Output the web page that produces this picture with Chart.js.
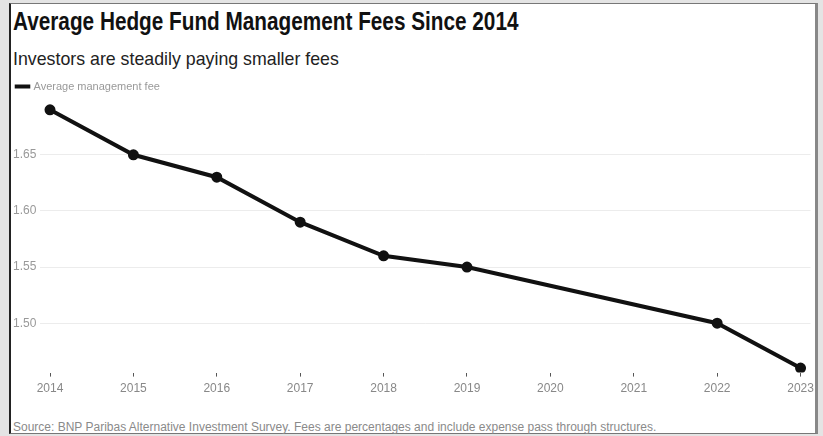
<!DOCTYPE html>
<html>
<head>
<meta charset="utf-8">
<script src="https://cdn.jsdelivr.net/npm/chart.js@4"></script>
<style>
  body { margin: 0; background: #e4e4e4; width: 823px; height: 436px; overflow: hidden; }
  #frame {
    position: absolute; left: 9px; top: 3px; width: 804px; height: 429px;
    background: #fff; border: 1px solid #777; border-left: 2px solid #222; border-right: 3px solid #888;
  }
  .txt { position: absolute; font-family: "Liberation Sans", Arial, sans-serif; white-space: nowrap; transform-origin: 0 0; }
  #title { left: 2px; top: 3px; font-size: 25px; font-weight: bold; color: #111; transform: scaleX(0.83); }
  #subtitle { left: 2px; top: 44px; font-size: 19px; color: #222; transform: scaleX(0.935); }
  #source { left: 2px; top: 416px; font-size: 12px; color: #8a8a8a; }
  #wrap { position: absolute; left: 0px; top: 69px; width: 808px; height: 328px; }
</style>
</head>
<body>
<div id="frame">
  <div id="title" class="txt">Average Hedge Fund Management Fees Since 2014</div>
  <div id="subtitle" class="txt">Investors are steadily paying smaller fees</div>
  <div id="wrap"><canvas id="myChart"></canvas></div>
  <div id="source" class="txt">Source: BNP Paribas Alternative Investment Survey. Fees are percentages and include expense pass through structures.</div>
</div>
<script>
// Data ------------------------------------
const years = [2014, 2015, 2016, 2017, 2018, 2019, 2020, 2021, 2022, 2023];
const fees = [1.69, 1.65, 1.63, 1.59, 1.56, 1.55, null, null, 1.50, 1.46];
const yTicks = [1.50, 1.55, 1.60, 1.65];
const seriesLabel = "Average management fee";

const font = "'Liberation Sans', Arial, sans-serif";

const ctx = document.getElementById("myChart").getContext("2d");
const myChart = new Chart(ctx, {
  type: "line",
  data: {
    datasets: [
      {
        label: seriesLabel,
        data: years.map((y, i) => ({ x: y, y: fees[i] })),
        borderColor: "#111",
        backgroundColor: "#111",
        borderWidth: 4,
        pointRadius: 3.5,
        pointHoverRadius: 3.5,
        spanGaps: true,
        tension: 0,
      },
    ],
  },
  options: {
    responsive: true,
    maintainAspectRatio: false,
    animation: false,
    events: [],
    layout: { padding: { left: 2, right: 0, top: 4, bottom: 0 } },
    scales: {
      x: {
        type: "linear",
        min: 2013.88,
        max: 2023.12,
        afterBuildTicks: (scale) => {
          scale.ticks = years.map((v) => ({ value: v }));
        },
        ticks: {
          color: "#888",
          font: { family: font, size: 12 },
          padding: 5,
          callback: (v) => String(v),
        },
        grid: {
          drawOnChartArea: false,
          drawTicks: true,
          tickLength: 4,
          tickColor: "#555",
        },
        border: { display: false },
      },
      y: {
        min: 1.456,
        max: 1.697,
        afterBuildTicks: (scale) => {
          scale.ticks = yTicks.map((v) => ({ value: v }));
        },
        afterFit: (scale) => {
          scale.width = 27;
        },
        ticks: {
          color: "#999",
          font: { family: font, size: 12 },
          padding: 4,
          crossAlign: "far",
          callback: (v) => v.toFixed(2),
        },
        grid: { color: "#ececec", drawTicks: false },
        border: { display: false },
      },
    },
    plugins: {
      tooltip: { enabled: false },
      legend: {
        display: true,
        position: "top",
        align: "start",
        labels: {
          usePointStyle: true,
          pointStyle: "line",
          boxWidth: 18,
          padding: 4,
          color: "#999",
          font: { family: font, size: 11 },
        },
      },
    },
  },
});
</script>
</body>
</html>
